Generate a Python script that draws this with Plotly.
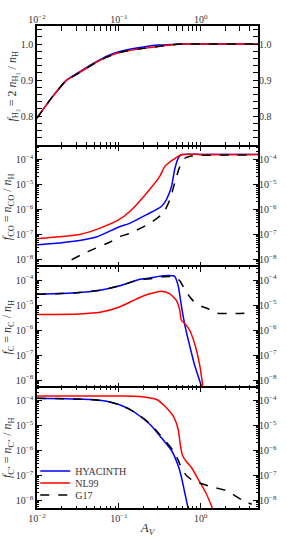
import plotly.graph_objects as go

# ---------------- data ----------------
# Panel 1: f_H2
h2_x = [0.01, 0.015, 0.023, 0.03, 0.05, 0.07, 0.1, 0.2, 0.3, 0.45, 0.6, 1.0, 2.0, 5.0]
h2_hyacinth = [0.795, 0.85, 0.9, 0.917, 0.948, 0.966, 0.979, 0.992, 0.997, 0.999, 1.0, 1.0, 1.0, 1.0]
h2_nl99 = [0.795, 0.85, 0.9, 0.915, 0.946, 0.963, 0.976, 0.988, 0.993, 0.998, 1.0, 1.0, 1.0, 1.0]
h2_g17 = [0.795, 0.85, 0.9, 0.915, 0.946, 0.963, 0.976, 0.988, 0.993, 0.998, 1.0, 1.0, 1.0, 1.0]

# Panel 2: f_CO
co_hy_x = [0.01, 0.02, 0.033, 0.053, 0.1, 0.136, 0.218, 0.33, 0.38, 0.44, 0.48, 0.53, 0.58, 1.0, 5.0]
co_hy_y = [3.9e-8, 4.7e-8, 5.75e-8, 7.9e-8, 2.0e-7, 2.8e-7, 6.2e-7, 1.32e-6, 2.45e-6, 8.3e-6, 3.9e-5, 1.12e-4, 1.55e-4, 1.6e-4, 1.6e-4]
co_nl_x = [0.01, 0.02, 0.033, 0.059, 0.1, 0.136, 0.218, 0.316, 0.363, 0.46, 0.58, 1.0, 5.0]
co_nl_y = [6.8e-8, 8.3e-8, 1.0e-7, 1.8e-7, 3.9e-7, 8.3e-7, 4.5e-6, 2.1e-5, 5.2e-5, 9.8e-5, 1.55e-4, 1.6e-4, 1.6e-4]
co_g17_x = [0.0265, 0.04, 0.078, 0.1, 0.136, 0.239, 0.347, 0.42, 0.48, 0.555, 0.64, 0.8, 1.0, 2.0, 4.2]
co_g17_y = [9.8e-9, 1.95e-8, 5.0e-8, 7.9e-8, 1.12e-7, 2.8e-7, 7.1e-7, 2.45e-6, 1.12e-5, 5.2e-5, 1.12e-4, 1.41e-4, 1.48e-4, 1.5e-4, 1.5e-4]

# Panel 3: f_C
c_hy_x = [0.01, 0.02, 0.033, 0.059, 0.1, 0.18, 0.239, 0.347, 0.48, 0.53, 0.58, 0.64, 0.73, 0.84, 1.02]
c_hy_y = [2.7e-5, 2.9e-5, 3.16e-5, 3.9e-5, 5.75e-5, 1.07e-4, 1.2e-4, 1.48e-4, 1.41e-4, 6.0e-5, 9.5e-6, 1.58e-6, 2.5e-7, 4.1e-8, 5.8e-9]
c_nl_x = [0.01, 0.033, 0.059, 0.1, 0.18, 0.239, 0.33, 0.42, 0.506, 0.555, 0.58, 0.64, 0.73, 0.84, 0.97, 1.06]
c_nl_y = [4.2e-6, 4.4e-6, 5.1e-6, 8.1e-6, 2.0e-5, 2.8e-5, 3.55e-5, 2.8e-5, 1.5e-5, 6.2e-6, 2.45e-6, 1.8e-6, 1.0e-6, 2.95e-7, 4.1e-8, 5.8e-9]
c_g17_x = [0.01, 0.02, 0.033, 0.059, 0.1, 0.18, 0.239, 0.347, 0.48, 0.555, 0.67, 0.805, 0.97, 1.23, 1.55, 4.2]
c_g17_y = [2.7e-5, 2.9e-5, 3.16e-5, 3.9e-5, 5.75e-5, 1.02e-4, 1.12e-4, 1.35e-4, 1.35e-4, 9.3e-5, 3.2e-5, 1.5e-5, 9.5e-6, 7.1e-6, 4.8e-6, 4.8e-6]

# Panel 4: f_C+
cp_hy_x = [0.01, 0.044, 0.071, 0.1, 0.136, 0.18, 0.239, 0.316, 0.44, 0.53, 0.58, 0.64, 0.7]
cp_hy_y = [1.23e-4, 1.1e-4, 9.3e-5, 6.9e-5, 4.4e-5, 2.4e-5, 1.12e-5, 3.9e-6, 1.0e-6, 2.5e-7, 8.9e-8, 2.0e-8, 5.0e-9]
cp_nl_x = [0.01, 0.1, 0.18, 0.29, 0.363, 0.46, 0.53, 0.565, 0.6, 0.67, 0.77, 0.97, 1.17, 1.39]
cp_nl_y = [1.51e-4, 1.51e-4, 1.45e-4, 1.1e-4, 6.0e-5, 2.4e-5, 7.1e-6, 1.58e-6, 6.3e-7, 3.55e-7, 2.1e-7, 5.6e-8, 1.86e-8, 5.0e-9]
cp_g17_x = [0.01, 0.044, 0.071, 0.1, 0.136, 0.18, 0.239, 0.316, 0.46, 0.53, 0.58, 0.67, 0.8, 0.97, 1.41, 2.05, 3.28, 4.2]
cp_g17_y = [1.23e-4, 1.1e-4, 9.3e-5, 6.9e-5, 4.4e-5, 2.5e-5, 1.2e-5, 4.4e-6, 1.0e-6, 4.2e-7, 2.0e-7, 1.0e-7, 6.3e-8, 5.0e-8, 3.4e-8, 2.5e-8, 1.0e-8, 7.1e-9]

series_names = ["HYACINTH", "NL99", "G17"]
series_colors = ["#0000ff", "#ff0000", "black"]
series_dash = ["solid", "solid", "dash"]

x_ticks = [0.01, 0.1, 1.0]
x_ticktext = ["10<sup>−2</sup>", "10<sup>−1</sup>", "10<sup>0</sup>"]
h2_ticks = [0.8, 0.9, 1.0]
h2_ticktext = ["0.8", "0.9", "1.0"]
log_ticks = [1e-8, 1e-7, 1e-6, 1e-5, 1e-4]
log_ticktext = ["10<sup>−8</sup>", "10<sup>−7</sup>", "10<sup>−6</sup>", "10<sup>−5</sup>", "10<sup>−4</sup>"]

ytitles = [
    "<i>f</i><sub>H₂</sub> = 2 <i>n</i><sub>H₂</sub> / <i>n</i><sub>H</sub>",
    "<i>f</i><sub>CO</sub> = <i>n</i><sub>CO</sub> / <i>n</i><sub>H</sub>",
    "<i>f</i><sub>C</sub> = <i>n</i><sub>C</sub> / <i>n</i><sub>H</sub>",
    "<i>f</i><sub>C⁺</sub> = <i>n</i><sub>C⁺</sub> / <i>n</i><sub>H</sub>",
]

panels = [
    [(h2_x, h2_hyacinth), (h2_x, h2_nl99), (h2_x, h2_g17)],
    [(co_hy_x, co_hy_y), (co_nl_x, co_nl_y), (co_g17_x, co_g17_y)],
    [(c_hy_x, c_hy_y), (c_nl_x, c_nl_y), (c_g17_x, c_g17_y)],
    [(cp_hy_x, cp_hy_y), (cp_nl_x, cp_nl_y), (cp_g17_x, cp_g17_y)],
]

FONT = "Liberation Serif"
TXT = "#333333"
legend_ids = ["legend", "legend2", "legend3"]

fig = go.Figure()
for p, trio in enumerate(panels):
    for s, (xs, ys) in enumerate(trio):
        fig.add_trace(go.Scatter(
            x=xs, y=ys, mode="lines",
            name=series_names[s],
            line=dict(color=series_colors[s], width=1.5, dash=series_dash[s],
                      shape="spline", smoothing=0.6),
            xaxis="x" if p == 0 else f"x{p+1}",
            yaxis="y" if p == 0 else f"y{p+1}",
            showlegend=(p == 3),
            legend=legend_ids[s],
        ))

xr = [-2, 0.7]
ylog_r = [-8.3, -3.48]
h = 1 / 4
tickfont = dict(family=FONT, size=10, color=TXT)
common_ax = dict(showline=True, linecolor="black", linewidth=1.6, ticks="inside",
                 tickcolor="black", ticklen=5, tickwidth=1, mirror="allticks",
                 showgrid=False, zeroline=False, automargin=False, tickfont=tickfont)
minor_log = dict(ticks="inside", ticklen=2.5, tickcolor="black", tickwidth=0.8, dtick="D1", showgrid=False)

legend_y = [0.0768, 0.0519, 0.027]
layout = dict(
    width=287, height=538,
    template="none",
    margin=dict(l=37, r=29, t=26, b=30),
    plot_bgcolor="white", paper_bgcolor="white",
    font=dict(family=FONT, size=10, color=TXT),
    showlegend=True,
)
for s, lid in enumerate(legend_ids):
    layout[lid] = dict(x=-0.008, y=legend_y[s], xanchor="left", yanchor="middle",
                       bgcolor="rgba(0,0,0,0)", borderwidth=0,
                       font=dict(family=FONT, size=10, color=TXT), itemwidth=30)

for p in range(4):
    xa = "xaxis" if p == 0 else f"xaxis{p+1}"
    ya = "yaxis" if p == 0 else f"yaxis{p+1}"
    ystr = "y" if p == 0 else f"y{p+1}"
    xstr = "x" if p == 0 else f"x{p+1}"
    top = 1 - p * h
    layout[xa] = dict(common_ax, type="log", range=xr, anchor=ystr,
                      tickvals=x_ticks, ticktext=x_ticktext,
                      showticklabels=(p == 3), minor=minor_log,
                      **({"matches": "x"} if p > 0 else {}))
    if p == 3:
        layout[xa]["title"] = dict(text="<i>A<sub>V</sub></i>", font=dict(family=FONT, size=13, color=TXT), standoff=0)
    if p == 0:
        layout[ya] = dict(common_ax, range=[0.716, 1.05], domain=[top - h, top], anchor=xstr,
                          tickvals=h2_ticks, ticktext=h2_ticktext,
                          minor=dict(ticks="inside", ticklen=2.5, tickcolor="black", tickwidth=0.8, dtick=0.02, showgrid=False))
    else:
        layout[ya] = dict(common_ax, type="log", range=ylog_r, domain=[top - h, top], anchor=xstr,
                          tickvals=log_ticks, ticktext=log_ticktext, minor=minor_log)
    layout[ya]["title"] = dict(text=ytitles[p], font=dict(family=FONT, size=12, color=TXT), standoff=2)
    # right-side duplicate labels
    ra = f"yaxis{p+5}"
    rd = dict(overlaying=ystr, side="right", anchor=xstr, showgrid=False, zeroline=False,
              showline=False, ticks="", automargin=False, tickfont=tickfont)
    if p == 0:
        rd.update(range=[0.716, 1.05], tickvals=h2_ticks, ticktext=h2_ticktext)
    else:
        rd.update(type="log", range=ylog_r, tickvals=log_ticks, ticktext=log_ticktext)
    layout[ra] = rd

# top labels on first panel
layout["xaxis5"] = dict(overlaying="x", side="top", anchor="y", type="log", range=xr,
                        tickvals=x_ticks, ticktext=x_ticktext, showgrid=False, zeroline=False,
                        showline=False, ticks="", automargin=False, tickfont=tickfont)

fig.update_layout(**layout)
# empty carriers so overlay axes are drawn
for k in range(4):
    fig.add_trace(go.Scatter(x=[], y=[], xaxis="x", yaxis=f"y{k+5}", showlegend=False, hoverinfo="skip"))
fig.add_trace(go.Scatter(x=[], y=[], xaxis="x5", yaxis="y", showlegend=False, hoverinfo="skip"))

fig.write_html("out.html", config={"displayModeBar": False},
               post_script="document.body.style.margin='0px';")
